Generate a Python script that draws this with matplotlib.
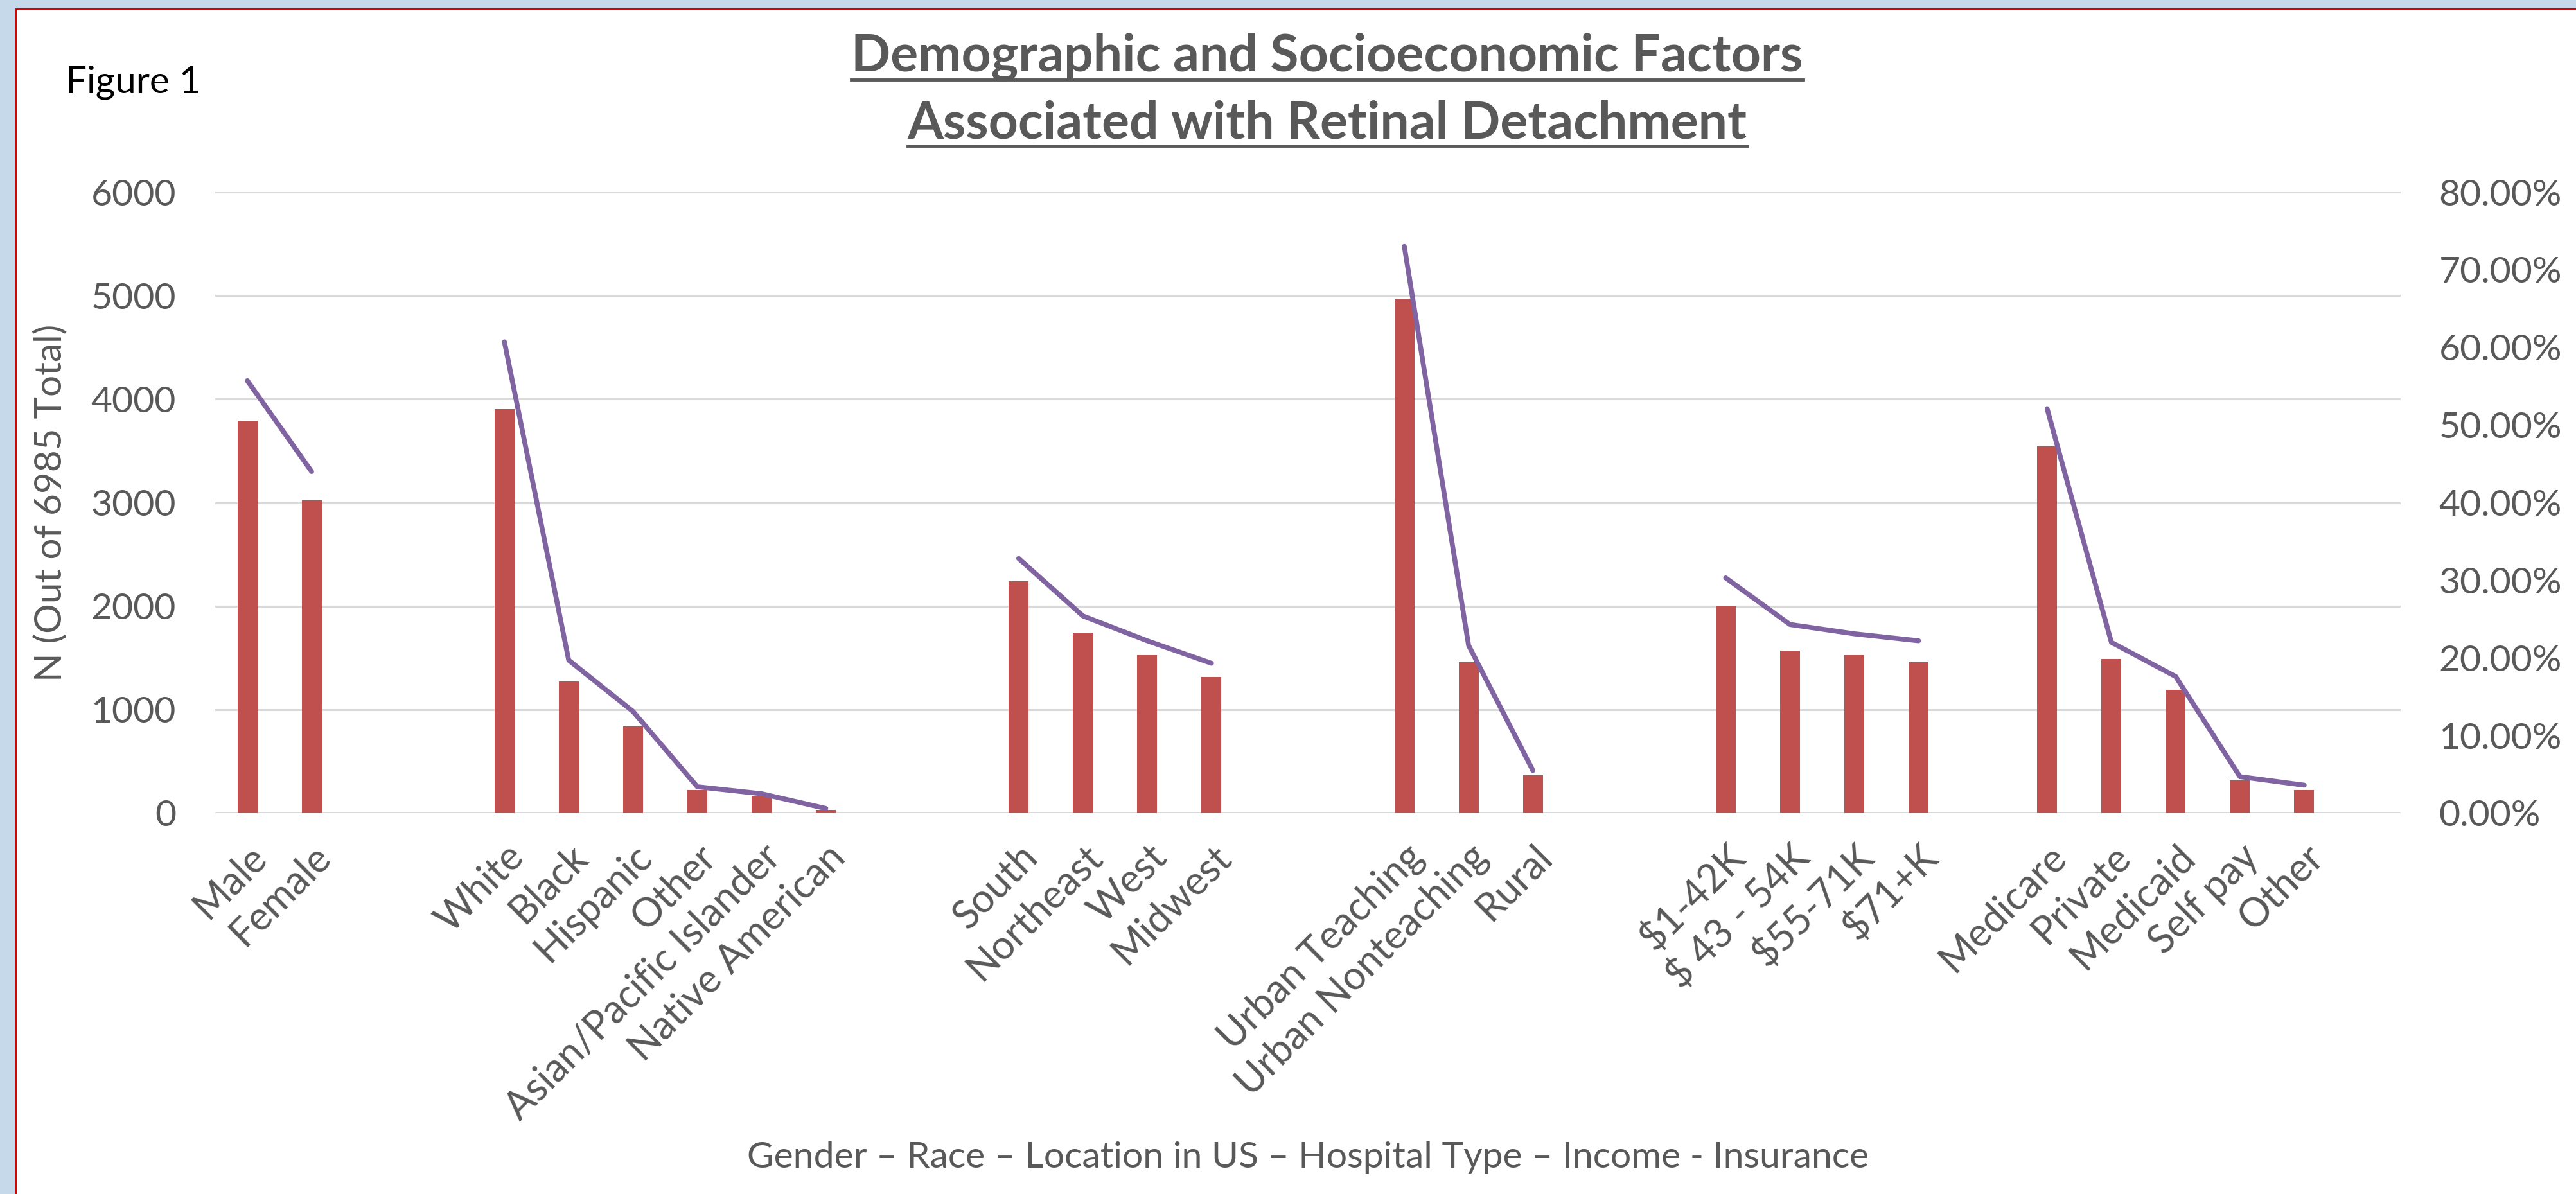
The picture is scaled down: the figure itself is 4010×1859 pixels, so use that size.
import numpy as np
import matplotlib
matplotlib.use("Agg")
import matplotlib.pyplot as plt
from matplotlib.lines import Line2D
from matplotlib.patches import Rectangle

plt.rcParams['font.family'] = ['Lato', 'DejaVu Sans']

# categories, blank strings are spacer slots between groups
categories = ["Male", "Female", "", "",
              "White", "Black", "Hispanic", "Other", "Asian/Pacific Islander", "Native American", "", "",
              "South", "Northeast", "West", "Midwest", "", "",
              "Urban Teaching", "Urban Nonteaching", "Rural", "", "",
              "$1-42K", "$ 43 - 54K", "$55-71K", "$71+K", "",
              "Medicare", "Private", "Medicaid", "Self pay", "Other", ""]

# patient counts (left axis)
counts = [3790, 3020, None, None,
          3900, 1270, 840, 222, 160, 32, None, None,
          2238, 1746, 1524, 1317, None, None,
          4968, 1460, 365, None, None,
          2000, 1571, 1524, 1460, None,
          3540, 1492, 1190, 317, 222, None]

# share within each group (right axis)
shares = [0.557, 0.440, None, None,
          0.607, 0.197, 0.131, 0.034, 0.025, 0.006, None, None,
          0.328, 0.254, 0.222, 0.193, None, None,
          0.730, 0.216, 0.055, None, None,
          0.303, 0.243, 0.231, 0.222, None,
          0.521, 0.220, 0.176, 0.047, 0.036, None]

left_ticks = [0, 1000, 2000, 3000, 4000, 5000, 6000]
right_ticks = [0.0, 0.1, 0.2, 0.3, 0.4, 0.5, 0.6, 0.7, 0.8]

grey = '#595959'
bar_color = '#C0504D'
line_color = '#8064A2'

W, H = 4010, 1859
fig = plt.figure(figsize=(W / 100, H / 100), dpi=100)
fig.patch.set_facecolor('white')

# window frame: light blue strips on the left and top with a red edge
fig.add_artist(Rectangle((0, 0), 25 / W, 1, transform=fig.transFigure,
                         facecolor='#C5D9EB', edgecolor='none'))
fig.add_artist(Rectangle((0, 1 - 14 / H), 1, 14 / H, transform=fig.transFigure,
                         facecolor='#C5D9EB', edgecolor='none'))
fig.add_artist(Line2D([25 / W, 25 / W], [0, 1 - 14 / H], transform=fig.transFigure,
                      color='#E00000', lw=1.5))
fig.add_artist(Line2D([25 / W, 1], [1 - 14 / H, 1 - 14 / H], transform=fig.transFigure,
                      color='#E00000', lw=1.5))

ax = fig.add_axes([335 / W, 1 - 1266 / H, (3737 - 335) / W, (1266 - 299) / H])
x = np.arange(len(categories))

bar_vals = np.array([np.nan if v is None else v for v in counts], dtype=float)
ax.bar(x, np.nan_to_num(bar_vals), width=0.31, color=bar_color, zorder=3)

ax.set_xlim(-0.5, len(categories) - 0.5)
ax.set_ylim(0, 6000)
ax.set_yticks(left_ticks)
ax.set_yticklabels([str(t) for t in left_ticks])
ax.yaxis.grid(True, color='#D9D9D9', lw=2.2, zorder=0)
ax.set_axisbelow(True)
for s in ax.spines.values():
    s.set_visible(False)
ax.tick_params(axis='y', length=0, pad=44, labelsize=41, labelcolor=grey)

shown = [i for i, c in enumerate(categories) if c]
ax.set_xticks(shown)
ax.set_xticklabels([categories[i] for i in shown], rotation=45, ha='right',
                   rotation_mode='anchor')
ax.tick_params(axis='x', length=0, pad=28, labelsize=44, labelcolor=grey)

ax.set_ylabel("N (Out of 6985 Total)", fontsize=42, color=grey, labelpad=26)
ax.set_xlabel("Gender \u2013 Race \u2013 Location in US \u2013 Hospital Type \u2013 Income - Insurance",
              fontsize=41, color=grey)
ax.xaxis.set_label_coords(0.5, (1266 - 1803) / (1266 - 299), transform=ax.transAxes)
ax.xaxis.label.set_va('center')

ax2 = ax.twinx()
line_vals = np.array([np.nan if v is None else v for v in shares], dtype=float)
ax2.plot(x, line_vals, color=line_color, lw=5.5, solid_capstyle='round',
         solid_joinstyle='round', zorder=4)
ax2.set_ylim(0, 0.8)
ax2.set_yticks(right_ticks)
ax2.set_yticklabels([f"{t * 100:.2f}%" for t in right_ticks])
for s in ax2.spines.values():
    s.set_visible(False)
ax2.tick_params(axis='y', length=0, pad=43, labelsize=41, labelcolor=grey)

fig.text(102 / W, 1 - 128 / H, "Figure 1", fontsize=42, color='black',
         ha='left', va='center')

# two-line underlined title
title_lines = ["Demographic and Socioeconomic Factors",
               "Associated with Retinal Detachment"]
title_y = [88, 192]
title_texts = []
for txt, yy in zip(title_lines, title_y):
    t = fig.text(2066 / W, 1 - yy / H, txt, fontsize=58, fontweight='bold',
                 color=grey, ha='center', va='center')
    title_texts.append(t)

fig.canvas.draw()
renderer = fig.canvas.get_renderer()
for t in title_texts:
    bb = t.get_window_extent(renderer)
    uy = bb.y0 + 2
    fig.add_artist(Line2D([bb.x0 / W, bb.x1 / W], [uy / H, uy / H],
                          transform=fig.transFigure, color=grey, lw=3.5))

fig.savefig("out.png", dpi=100, facecolor='white')
